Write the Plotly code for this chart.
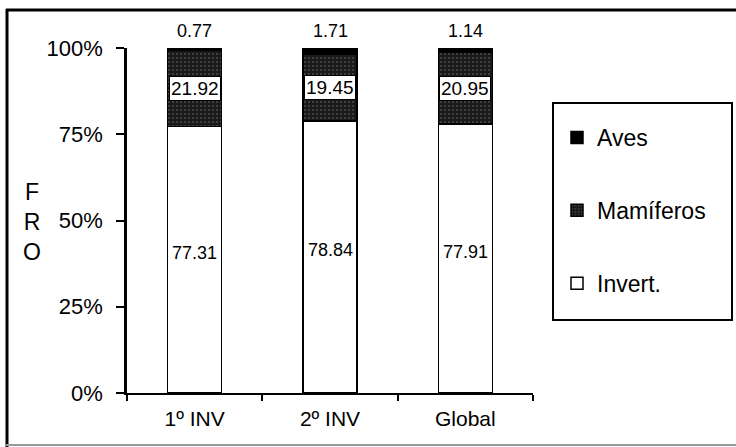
import plotly.graph_objects as go

categories = ["1º INV", "2º INV", "Global"]
invert = [77.31, 78.84, 77.91]
mamiferos = [21.92, 19.45, 20.95]
aves = [0.77, 1.71, 1.14]
y_ticks = [0, 25, 50, 75, 100]
y_tick_labels = ["0%", "25%", "50%", "75%", "100%"]

FONT = "Liberation Sans, Arial, sans-serif"

# plot-area pixel geometry helpers (for paper-referenced decorations)
L, R, T, B = 127, 533, 48, 393
W, H = 736, 447
def px(x):
    return (x - L) / (R - L)
def py(y):
    return (B - y) / (B - T)

fig = go.Figure()
fig.add_trace(go.Bar(
    name="Invert.", x=categories, y=invert,
    marker=dict(color="white", line=dict(color="black", width=1.5)),
    width=0.4, legendgroup="c", legendrank=3,
))
fig.add_trace(go.Bar(
    name="Mamíferos", x=categories, y=mamiferos,
    marker=dict(color="#1a1a1a", line=dict(color="black", width=1.5),
                pattern=dict(shape=".", fgcolor="#808080", size=4, solidity=0.18)),
    width=0.4, legendgroup="b", legendrank=2,
))
fig.add_trace(go.Bar(
    name="Aves", x=categories, y=aves,
    marker=dict(color="black", line=dict(color="black", width=1.5)),
    width=0.4, legendgroup="a", legendrank=1,
))

annotations = []
for i, c in enumerate(categories):
    annotations.append(dict(
        x=c, y=invert[i] / 2 + 2, xref="x", yref="y", text=f"{invert[i]:.2f}",
        showarrow=False, font=dict(family=FONT, size=18, color="black"),
    ))
    annotations.append(dict(
        x=c, y=invert[i] + mamiferos[i] / 2, xref="x", yref="y",
        text=f"{mamiferos[i]:.2f}", showarrow=False,
        font=dict(family=FONT, size=19, color="black"),
        bgcolor="white", bordercolor="black", borderwidth=1, borderpad=1,
    ))
    annotations.append(dict(
        x=c, y=100, xref="x", yref="y", yanchor="bottom", yshift=5,
        text=f"{aves[i]:.2f}", showarrow=False,
        font=dict(family=FONT, size=18, color="black"),
    ))

annotations.append(dict(
    x=px(32), y=py(222), xref="paper", yref="paper", text="F<br>R<br>O",
    showarrow=False, font=dict(family=FONT, size=23, color="black"),
    xanchor="center", yanchor="middle", align="center",
))

shapes = [
    # legend frame
    dict(type="rect", xref="paper", yref="paper",
         x0=px(553), x1=px(732), y0=py(320), y1=py(103),
         line=dict(color="black", width=2), fillcolor="rgba(0,0,0,0)"),
    # outer frame (top, left, bottom)
    dict(type="line", xref="paper", yref="paper", x0=px(6), x1=px(740),
         y0=py(10), y1=py(10), line=dict(color="black", width=3)),
    dict(type="line", xref="paper", yref="paper", x0=px(7), x1=px(7),
         y0=py(9), y1=py(447), line=dict(color="black", width=3)),
    dict(type="line", xref="paper", yref="paper", x0=px(6), x1=px(740),
         y0=py(445), y1=py(445), line=dict(color="#9a9a9a", width=2)),
]

fig.update_layout(
    width=W, height=H,
    margin=dict(l=L, r=W - R, t=T, b=H - B, pad=0),
    barmode="stack",
    paper_bgcolor="white", plot_bgcolor="white",
    font=dict(family=FONT, size=20, color="black"),
    showlegend=True,
    legend=dict(
        x=px(557), y=py(116), xanchor="left", yanchor="top",
        traceorder="grouped", tracegroupgap=40,
        font=dict(family=FONT, size=23, color="black"),
        bgcolor="rgba(0,0,0,0)", borderwidth=0,
    ),
    annotations=annotations,
    shapes=shapes,
    bargap=0.6,
)
fig.update_xaxes(
    type="category", range=[-0.5, 2.5],
    showline=True, linecolor="black", linewidth=2,
    ticks="outside", tickson="boundaries", ticklen=6, tickwidth=2, tickcolor="black",
    tickfont=dict(family=FONT, size=21, color="black"),
    showgrid=False, zeroline=False, ticklabelstandoff=6,
)
fig.update_yaxes(
    range=[0, 100], tickvals=y_ticks, ticktext=y_tick_labels,
    showline=True, linecolor="black", linewidth=2.5,
    ticks="outside", ticklen=8, tickwidth=2, tickcolor="black",
    tickfont=dict(family=FONT, size=22, color="black"),
    showgrid=False, zeroline=False, ticklabelstandoff=9,
)

fig.write_html("out.html")
